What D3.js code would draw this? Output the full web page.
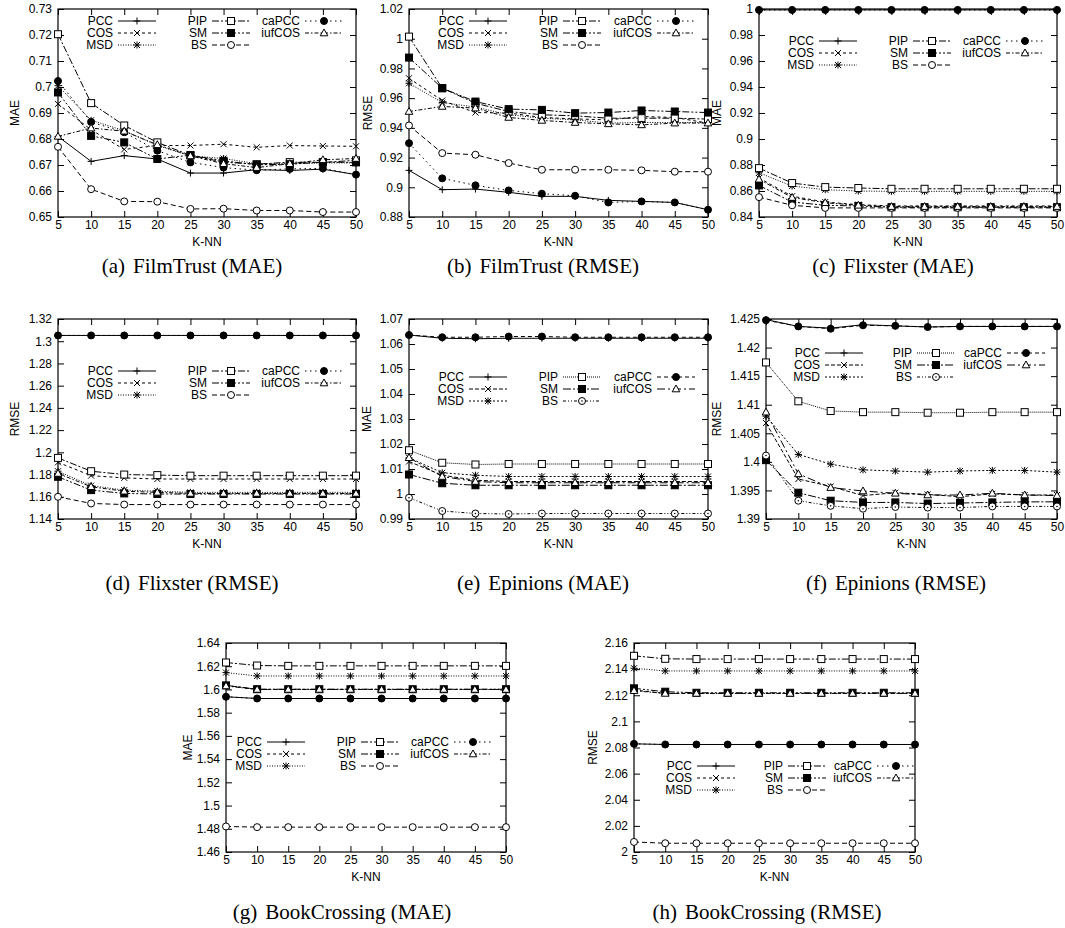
<!DOCTYPE html>
<html>
<head>
<meta charset="utf-8">
<script src="https://cdn.jsdelivr.net/npm/d3@7"></script>
<style>
  body { margin: 0; background: #fff; }
  text { fill: #000; }
</style>
</head>
<body>
<svg id="fig" width="1065" height="928"></svg>
<script>
// k values on the x axis
const kValues = [5, 10, 15, 20, 25, 30, 35, 40, 45, 50];
const seriesNames = ["PCC", "COS", "MSD", "PIP", "SM", "BS", "caPCC", "iufCOS"];

// every panel: one row per series, same order as seriesNames
const filmTrustMAE = [
  [0.6810, 0.6714, 0.6736, 0.6723, 0.6669, 0.6669, 0.6682, 0.6679, 0.6684, 0.6663],
  [0.6935, 0.6835, 0.6760, 0.6775, 0.6775, 0.6780, 0.6768, 0.6775, 0.6773, 0.6772],
  [0.7005, 0.6872, 0.6832, 0.6775, 0.6735, 0.6725, 0.6705, 0.6705, 0.6708, 0.6708],
  [0.7203, 0.6938, 0.6852, 0.6787, 0.6737, 0.6711, 0.6703, 0.6711, 0.6710, 0.6718],
  [0.6979, 0.6812, 0.6787, 0.6723, 0.6738, 0.6716, 0.6701, 0.6703, 0.6711, 0.6710],
  [0.6770, 0.6607, 0.6560, 0.6559, 0.6531, 0.6532, 0.6525, 0.6525, 0.6519, 0.6519],
  [0.7023, 0.6865, 0.6826, 0.6755, 0.6710, 0.6690, 0.6680, 0.6685, 0.6687, 0.6663],
  [0.6810, 0.6842, 0.6830, 0.6778, 0.6735, 0.6705, 0.6690, 0.6705, 0.6720, 0.6725]
];
const filmTrustRMSE = [
  [0.9114, 0.8984, 0.8988, 0.8966, 0.8939, 0.8939, 0.8912, 0.8905, 0.8898, 0.8849],
  [0.9734, 0.9584, 0.9503, 0.9500, 0.9470, 0.9460, 0.9454, 0.9476, 0.9470, 0.9432],
  [0.9700, 0.9570, 0.9540, 0.9488, 0.9465, 0.9454, 0.9432, 0.9436, 0.9436, 0.9436],
  [1.0014, 0.9667, 0.9566, 0.9510, 0.9488, 0.9481, 0.9465, 0.9465, 0.9465, 0.9459],
  [0.9873, 0.9667, 0.9577, 0.9526, 0.9521, 0.9499, 0.9503, 0.9517, 0.9510, 0.9503],
  [0.9416, 0.9230, 0.9219, 0.9163, 0.9118, 0.9118, 0.9118, 0.9114, 0.9105, 0.9105],
  [0.9297, 0.9060, 0.9013, 0.8979, 0.8957, 0.8943, 0.8898, 0.8905, 0.8898, 0.8849],
  [0.9510, 0.9544, 0.9533, 0.9470, 0.9450, 0.9436, 0.9427, 0.9420, 0.9432, 0.9432]
];
const flixsterMAE = [
  [0.9993, 0.9993, 0.9993, 0.9993, 0.9993, 0.9993, 0.9993, 0.9993, 0.9993, 0.9993],
  [0.8700, 0.8560, 0.8515, 0.8495, 0.8485, 0.8485, 0.8485, 0.8485, 0.8485, 0.8485],
  [0.8740, 0.8638, 0.8610, 0.8600, 0.8597, 0.8597, 0.8597, 0.8597, 0.8597, 0.8597],
  [0.8776, 0.8661, 0.8630, 0.8623, 0.8617, 0.8617, 0.8617, 0.8617, 0.8617, 0.8617],
  [0.8643, 0.8515, 0.8490, 0.8485, 0.8475, 0.8475, 0.8475, 0.8475, 0.8475, 0.8475],
  [0.8553, 0.8490, 0.8470, 0.8470, 0.8470, 0.8470, 0.8470, 0.8470, 0.8470, 0.8470],
  [0.9993, 0.9993, 0.9993, 0.9993, 0.9993, 0.9993, 0.9993, 0.9993, 0.9993, 0.9993],
  [0.8690, 0.8550, 0.8510, 0.8490, 0.8480, 0.8480, 0.8480, 0.8480, 0.8480, 0.8480]
];
const flixsterRMSE = [
  [1.3052, 1.3052, 1.3052, 1.3052, 1.3052, 1.3052, 1.3052, 1.3052, 1.3052, 1.3052],
  [1.1910, 1.1790, 1.1770, 1.1760, 1.1760, 1.1760, 1.1760, 1.1760, 1.1760, 1.1760],
  [1.1830, 1.1700, 1.1660, 1.1650, 1.1640, 1.1640, 1.1640, 1.1640, 1.1640, 1.1640],
  [1.1950, 1.1830, 1.1800, 1.1795, 1.1790, 1.1790, 1.1790, 1.1790, 1.1790, 1.1790],
  [1.1780, 1.1660, 1.1630, 1.1625, 1.1625, 1.1625, 1.1625, 1.1625, 1.1625, 1.1625],
  [1.1600, 1.1540, 1.1530, 1.1530, 1.1530, 1.1530, 1.1530, 1.1530, 1.1530, 1.1530],
  [1.3052, 1.3052, 1.3052, 1.3052, 1.3052, 1.3052, 1.3052, 1.3052, 1.3052, 1.3052],
  [1.1810, 1.1690, 1.1650, 1.1640, 1.1630, 1.1630, 1.1630, 1.1630, 1.1630, 1.1630]
];
const epinionsMAE = [
  [1.0636, 1.0623, 1.0621, 1.0623, 1.0623, 1.0623, 1.0623, 1.0623, 1.0623, 1.0623],
  [1.0130, 1.0075, 1.0055, 1.0050, 1.0050, 1.0050, 1.0050, 1.0050, 1.0050, 1.0050],
  [1.0145, 1.0085, 1.0075, 1.0070, 1.0070, 1.0070, 1.0070, 1.0070, 1.0070, 1.0070],
  [1.0175, 1.0125, 1.0118, 1.0120, 1.0120, 1.0120, 1.0120, 1.0120, 1.0120, 1.0120],
  [1.0078, 1.0043, 1.0035, 1.0035, 1.0035, 1.0035, 1.0035, 1.0035, 1.0035, 1.0035],
  [0.9985, 0.9932, 0.9922, 0.9920, 0.9922, 0.9922, 0.9922, 0.9922, 0.9922, 0.9922],
  [1.0636, 1.0627, 1.0627, 1.0630, 1.0630, 1.0627, 1.0627, 1.0627, 1.0627, 1.0627],
  [1.0145, 1.0070, 1.0050, 1.0045, 1.0045, 1.0045, 1.0045, 1.0045, 1.0045, 1.0045]
];
const epinionsRMSE = [
  [1.4249, 1.4237, 1.4234, 1.4240, 1.4238, 1.4236, 1.4237, 1.4237, 1.4237, 1.4237],
  [1.4068, 1.3970, 1.3957, 1.3941, 1.3946, 1.3943, 1.3939, 1.3944, 1.3942, 1.3942],
  [1.4080, 1.4013, 1.3996, 1.3986, 1.3984, 1.3982, 1.3984, 1.3985, 1.3985, 1.3982],
  [1.4174, 1.4106, 1.4089, 1.4087, 1.4087, 1.4086, 1.4086, 1.4087, 1.4087, 1.4087],
  [1.4003, 1.3946, 1.3932, 1.3929, 1.3929, 1.3927, 1.3928, 1.3929, 1.3930, 1.3930],
  [1.4011, 1.3932, 1.3923, 1.3918, 1.3921, 1.3920, 1.3920, 1.3922, 1.3922, 1.3922],
  [1.4248, 1.4237, 1.4233, 1.4239, 1.4238, 1.4236, 1.4237, 1.4237, 1.4237, 1.4237],
  [1.4087, 1.3979, 1.3955, 1.3949, 1.3945, 1.3942, 1.3942, 1.3945, 1.3942, 1.3941]
];
const bookCrossingMAE = [
  [1.5937, 1.5922, 1.5922, 1.5922, 1.5922, 1.5922, 1.5922, 1.5922, 1.5922, 1.5922],
  [1.6035, 1.6000, 1.6000, 1.6000, 1.6000, 1.6000, 1.6000, 1.6000, 1.6000, 1.6000],
  [1.6145, 1.6116, 1.6116, 1.6116, 1.6116, 1.6116, 1.6116, 1.6116, 1.6116, 1.6116],
  [1.6232, 1.6206, 1.6203, 1.6203, 1.6203, 1.6203, 1.6203, 1.6203, 1.6203, 1.6203],
  [1.6035, 1.6002, 1.6002, 1.6002, 1.6002, 1.6002, 1.6002, 1.6002, 1.6002, 1.6002],
  [1.4820, 1.4814, 1.4814, 1.4814, 1.4814, 1.4814, 1.4814, 1.4814, 1.4814, 1.4814],
  [1.5937, 1.5922, 1.5922, 1.5922, 1.5922, 1.5922, 1.5922, 1.5922, 1.5922, 1.5922],
  [1.6030, 1.6000, 1.6000, 1.6000, 1.6000, 1.6000, 1.6000, 1.6000, 1.6000, 1.6000]
];
const bookCrossingRMSE = [
  [2.0828, 2.0823, 2.0823, 2.0823, 2.0823, 2.0823, 2.0823, 2.0823, 2.0823, 2.0823],
  [2.1240, 2.1214, 2.1214, 2.1214, 2.1214, 2.1214, 2.1214, 2.1214, 2.1214, 2.1214],
  [2.1407, 2.1386, 2.1386, 2.1386, 2.1386, 2.1386, 2.1386, 2.1386, 2.1386, 2.1386],
  [2.1502, 2.1479, 2.1477, 2.1477, 2.1477, 2.1477, 2.1477, 2.1477, 2.1477, 2.1477],
  [2.1253, 2.1227, 2.1219, 2.1219, 2.1219, 2.1219, 2.1219, 2.1219, 2.1219, 2.1219],
  [2.0077, 2.0067, 2.0067, 2.0067, 2.0067, 2.0067, 2.0067, 2.0067, 2.0067, 2.0067],
  [2.0828, 2.0823, 2.0823, 2.0823, 2.0823, 2.0823, 2.0823, 2.0823, 2.0823, 2.0823],
  [2.1235, 2.1214, 2.1214, 2.1214, 2.1214, 2.1214, 2.1214, 2.1214, 2.1214, 2.1214]
];

// line styles, gnuplot-ish
const markers = ["plus", "cross", "star", "square", "fsquare", "circle", "fcircle", "triangle"];
const dashA = [null, "3,3", "1,1.5", "7,2,2,2", "7,2,2,2,2,2", "5,3", "1.5,3.5", "4,2,1.5,2"];
const dashB = [null, "4,2", "2,2", "1,1", "8,2,2,2", "3,2,1,2,1,2", "4,3", "8,3,2,3"];

// legendX: right edge of each legend text column, absolute
const panels = [
  {tag: "(a)", caption: "FilmTrust (MAE)", ylabel: "MAE", data: filmTrustMAE, domain: [0.65, 0.73], step: 0.01,
   left: 58, right: 356, top: 9, bottom: 217, ylabelX: 15, legendY: 12, legendX: [113, 207, 300],
   captionX: 192, captionY: 266, dash: dashA},
  {tag: "(b)", caption: "FilmTrust (RMSE)", ylabel: "RMSE", data: filmTrustRMSE, domain: [0.88, 1.02], step: 0.02,
   left: 409, right: 708, top: 9, bottom: 217, ylabelX: 368, legendY: 12, legendX: [464, 558, 652],
   captionX: 543, captionY: 266, dash: dashA},
  {tag: "(c)", caption: "Flixster (MAE)", ylabel: "MAE", data: flixsterMAE, domain: [0.84, 1.0], step: 0.02,
   left: 759, right: 1057, top: 9, bottom: 217, ylabelX: 717, legendY: 32, legendX: [814, 908, 1001],
   captionX: 893, captionY: 266, dash: dashA},
  {tag: "(d)", caption: "Flixster (RMSE)", ylabel: "RMSE", data: flixsterRMSE, domain: [1.14, 1.32], step: 0.02,
   left: 58, right: 356, top: 319, bottom: 519, ylabelX: 15, legendY: 52, legendX: [113, 207, 300],
   captionX: 192, captionY: 583, dash: dashA},
  {tag: "(e)", caption: "Epinions (MAE)", ylabel: "MAE", data: epinionsMAE, domain: [0.99, 1.07], step: 0.01,
   left: 409, right: 708, top: 319, bottom: 519, ylabelX: 367, legendY: 58, legendX: [464, 558, 652],
   captionX: 543, captionY: 583, dash: dashB},
  {tag: "(f)", caption: "Epinions (RMSE)", ylabel: "RMSE", data: epinionsRMSE, domain: [1.39, 1.425], step: 0.005,
   left: 766, right: 1057, top: 319, bottom: 519, ylabelX: 717, legendY: 34, legendX: [820, 912, 1002],
   captionX: 896, captionY: 583, dash: dashB},
  {tag: "(g)", caption: "BookCrossing (MAE)", ylabel: "MAE", data: bookCrossingMAE, domain: [1.46, 1.64], step: 0.02,
   left: 226, right: 506, top: 643, bottom: 852, ylabelX: 188, legendY: 99, legendX: [262, 356, 449],
   captionX: 342, captionY: 912, dash: dashA},
  {tag: "(h)", caption: "BookCrossing (RMSE)", ylabel: "RMSE", data: bookCrossingRMSE, domain: [2.0, 2.16], step: 0.02,
   left: 634, right: 915, top: 643, bottom: 852, ylabelX: 593, legendY: 123, legendX: [692, 783, 872],
   captionX: 767, captionY: 912, dash: dashA}
];

const svg = d3.select("#fig");
const sans = "Liberation Sans, Arial, sans-serif";
const fmt = v => String(+v.toFixed(3));

function drawMarker(g, type, x, y, dotted) {
  const s = 3.5;
  if (type === "plus" || type === "star") {
    g.append("path").attr("d", `M${x - s},${y}H${x + s}M${x},${y - s}V${y + s}`).attr("stroke", "#000");
  }
  if (type === "cross" || type === "star") {
    const c = 3;
    g.append("path").attr("d", `M${x - c},${y - c}L${x + c},${y + c}M${x - c},${y + c}L${x + c},${y - c}`).attr("stroke", "#000");
  }
  if (type === "square" || type === "fsquare") {
    g.append("rect").attr("x", x - s).attr("y", y - s).attr("width", 2 * s).attr("height", 2 * s)
      .attr("fill", type === "fsquare" ? "#000" : "#fff").attr("stroke", "#000");
  }
  if (type === "circle" || type === "fcircle") {
    g.append("circle").attr("cx", x).attr("cy", y).attr("r", s)
      .attr("fill", type === "fcircle" ? "#000" : "#fff").attr("stroke", "#000");
    if (dotted && type === "circle") g.append("circle").attr("cx", x).attr("cy", y).attr("r", 0.8).attr("fill", "#000");
  }
  if (type === "triangle") {
    g.append("path").attr("d", `M${x},${y - 4}L${x + 3.8},${y + 2.8}L${x - 3.8},${y + 2.8}Z`)
      .attr("fill", "#fff").attr("stroke", "#000");
  }
}

panels.forEach(p => {
  const g = svg.append("g");
  const x = d3.scaleLinear().domain([5, 50]).range([p.left, p.right]);
  const y = d3.scaleLinear().domain(p.domain).range([p.bottom, p.top]);
  const nTicks = Math.round((p.domain[1] - p.domain[0]) / p.step);
  const yTicks = d3.range(nTicks + 1).map(i => p.domain[0] + i * p.step);

  // axes with inward ticks, mirrored on the opposite side
  const axes = [
    g.append("g").attr("transform", `translate(${p.left},0)`)
      .call(d3.axisLeft(y).tickValues(yTicks).tickFormat(fmt).tickSizeInner(-6).tickSizeOuter(0).tickPadding(6)),
    g.append("g").attr("transform", `translate(${p.right},0)`)
      .call(d3.axisRight(y).tickValues(yTicks).tickFormat("").tickSizeInner(-6).tickSizeOuter(0)),
    g.append("g").attr("transform", `translate(0,${p.bottom})`)
      .call(d3.axisBottom(x).tickValues(kValues).tickFormat(d3.format("d")).tickSizeInner(-6).tickSizeOuter(0).tickPadding(3)),
    g.append("g").attr("transform", `translate(0,${p.top})`)
      .call(d3.axisTop(x).tickValues(kValues).tickFormat("").tickSizeInner(-6).tickSizeOuter(0))
  ];
  axes.forEach(a => {
    a.select(".domain").remove();
    a.selectAll("text").attr("font-family", sans).attr("font-size", 12).attr("fill", "#000");
    a.selectAll("line").attr("stroke", "#000");
  });

  g.append("rect").attr("x", p.left).attr("y", p.top)
    .attr("width", p.right - p.left).attr("height", p.bottom - p.top)
    .attr("fill", "none").attr("stroke", "#000").attr("stroke-width", 1.2);

  // series
  const line = d3.line().x((d, i) => x(kValues[i])).y(d => y(d));
  p.data.forEach((vals, si) => {
    g.append("path").datum(vals).attr("d", line)
      .attr("fill", "none").attr("stroke", "#000").attr("stroke-width", 1)
      .attr("stroke-dasharray", p.dash[si]);
    vals.forEach((v, i) => drawMarker(g, markers[si], x(kValues[i]), y(v), p.dash === dashB));
  });

  // legend, three columns
  seriesNames.forEach((name, si) => {
    const col = Math.floor(si / 3), row = si % 3;
    const ly = p.top + p.legendY + row * 12;
    const tx = p.legendX[col];
    g.append("text").attr("x", tx).attr("y", ly).attr("dy", "0.35em")
      .attr("text-anchor", "end").attr("font-family", sans).attr("font-size", 12).text(name);
    g.append("path").attr("d", `M${tx + 5},${ly}H${tx + 43}`)
      .attr("stroke", "#000").attr("stroke-width", 1).attr("stroke-dasharray", p.dash[si]);
    drawMarker(g, markers[si], tx + 24, ly, p.dash === dashB);
  });

  // axis titles
  g.append("text").attr("x", (p.left + p.right) / 2).attr("y", p.bottom + 25).attr("dy", "0.35em")
    .attr("text-anchor", "middle").attr("font-family", sans).attr("font-size", 12).text("K-NN");
  g.append("text").attr("transform", `translate(${p.ylabelX},${(p.top + p.bottom) / 2}) rotate(-90)`)
    .attr("dy", "0.35em").attr("text-anchor", "middle").attr("font-family", sans).attr("font-size", 12).text(p.ylabel);

  // subfigure caption
  const cap = g.append("text").attr("x", p.captionX).attr("y", p.captionY).attr("dy", "0.35em")
    .attr("text-anchor", "middle").attr("font-family", "Liberation Serif, Times New Roman, serif").attr("font-size", 21);
  cap.append("tspan").text(p.tag);
  cap.append("tspan").attr("dx", 8).text(p.caption);
});
</script>
</body>
</html>
